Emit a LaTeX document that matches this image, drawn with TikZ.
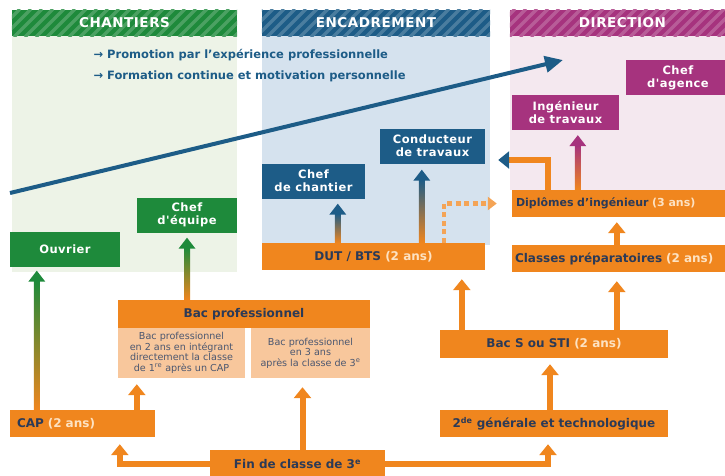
\documentclass[tikz,border=0pt]{standalone}
\usepackage{fontspec}
\setmainfont{DejaVu Sans}
\newfontfamily\espace[LetterSpace=4]{DejaVu Sans}
\usetikzlibrary{arrows.meta,calc}

\definecolor{vert}{HTML}{1E8A3B}
\definecolor{vertclair}{HTML}{EDF3E7}
\definecolor{bleu}{HTML}{1D5C87}
\definecolor{bleuclair}{HTML}{D5E2EE}
\definecolor{violet}{HTML}{A6337E}
\definecolor{violetclair}{HTML}{F4E8EF}
\definecolor{orangeF}{HTML}{F0861E}
\definecolor{orangeclair}{HTML}{F8C79C}
\definecolor{encre}{HTML}{2B3A57}
\definecolor{creme}{HTML}{FDE2C2}

% fleche verticale en degrade : depart, pointe, couleur du bas, couleur du haut
\newcommand\flechedegrade[4]{%
  \shade[bottom color=#3, top color=#4] ($(#1)+(-3pt,0pt)$) rectangle ($(#2)+(3pt,-10pt)$);
  \fill[#4] ($(#2)+(-8.5pt,-11pt)$) -- ($(#2)+(8.5pt,-11pt)$) -- (#2) -- cycle;}

\tikzset{
  bandeau/.style 2 args={rectangle, fill=#1, minimum width=#2, minimum height=26pt, inner sep=0pt},
  titre/.style={text=white, font=\espace\bfseries\fontsize{13.5}{15}\selectfont},
  poste/.style={rectangle, fill=#1, minimum height=35pt, inner sep=0pt, align=center,
    text=white, font=\espace\bfseries\fontsize{11.5}{13}\selectfont},
  etape/.style={rectangle, fill=orangeF, minimum height=27pt, inner sep=0pt,
    text=encre, font=\bfseries\fontsize{12}{14}\selectfont},
  detail/.style={rectangle, fill=orangeclair, minimum height=50pt, inner sep=0pt, align=center,
    text=encre!85, font=\fontsize{9.6}{10.6}\selectfont},
  fleche/.style={orangeF, line width=6pt, -{Triangle[width=17pt,length=11pt]}},
  pointille/.style={orangeF!75, line width=4.5pt, dash pattern=on 5pt off 3.5pt,
    -{Triangle[width=13pt,length=9pt]}},
  consigne/.style={anchor=west, text=bleu, font=\bfseries\fontsize{11.5}{13}\selectfont},
}

\begin{document}
\begin{tikzpicture}[x=1pt,y=-1pt]
\useasboundingbox (0,0) rectangle (725,475);

% fonds des trois colonnes
\fill[vertclair] (12,36) rectangle (237,272);
\fill[bleuclair] (262,36) rectangle (490,245);
\fill[violetclair] (510,36) rectangle (735,190);

% bandeaux hachures puis leurs titres
\node[bandeau={vert}{225pt}] (chantiers) at (124.5,23) {};
\node[bandeau={bleu}{228pt}] (encadrement) at (376,23) {};
\node[bandeau={violet}{225pt}] (direction) at (622.5,23) {};
\foreach \nom/\coul in {chantiers/vert, encadrement/bleu, direction/violet} {
  \begin{scope}
    \clip (\nom.south west) rectangle (\nom.north east);
    \foreach \x in {-30,-19,...,740}
      \draw[\coul!80!white, line width=3.5pt] (\x,37) -- (\x+28,9);
  \end{scope}
}
\node[titre] at (chantiers) {CHANTIERS};
\node[titre] at (encadrement) {ENCADREMENT};
\node[titre] at (direction) {DIRECTION};

\node[consigne] (promotion) at (90,55) {→ Promotion par l'expérience professionnelle};
\node[consigne] (formation) at (90,76) {→ Formation continue et motivation personnelle};

% les postes
\node[poste=vert, minimum width=110pt] (ouvrier) at (65,249) {Ouvrier};
\node[poste=vert, minimum width=100pt] (chefEq) at (187,215) {Chef\\d'équipe};
\node[poste=bleu, minimum width=103pt] (chefCh) at (313.5,181) {Chef\\de chantier};
\node[poste=bleu, minimum width=105pt] (conducteur) at (432.5,146) {Conducteur\\de travaux};
\node[poste=violet, minimum width=107pt] (ingenieur) at (565.5,112.5) {Ingénieur\\de travaux};
\node[poste=violet, minimum width=104pt] (chefAg) at (678,77.5) {Chef\\d'agence};

% les formations
\node[etape, minimum width=223pt] (dut) at (373.5,256.5) {DUT / BTS \textcolor{creme}{(2 ans)}};
\node[etape, minimum width=223pt, text width=215pt, align=left, font=\bfseries\fontsize{11}{13}\selectfont]
  (diplomes) at (623.5,203.5) {Diplômes d'ingénieur \textcolor{creme}{(3 ans)}};
\node[etape, minimum width=223pt, text width=217pt, align=left] (classes) at (623.5,258.5)
  {Classes préparatoires \textcolor{creme}{(2 ans)}};
\node[etape, minimum width=228pt, minimum height=28pt] (bacS) at (554,344) {Bac S ou STI \textcolor{creme}{(2 ans)}};
\node[etape, minimum width=228pt] (seconde) at (554,423.5) {2\textsuperscript{de} générale et technologique};
\node[etape, minimum width=175pt, minimum height=28pt] (fin) at (297.5,464) {Fin de classe de 3\textsuperscript{e}};
\node[etape, minimum width=145pt, text width=131pt, align=left] (cap) at (82.5,423.5) {CAP \textcolor{creme}{(2 ans)}};
\node[etape, minimum width=252pt, minimum height=28pt] (bacPro) at (244,314) {Bac professionnel};
\node[detail, minimum width=127pt] (bacProA) at (181.5,353)
  {Bac professionnel\\en 2 ans en intégrant\\directement la classe\\de 1\textsuperscript{re} après un CAP};
\node[detail, minimum width=119pt] (bacProB) at (310.5,353)
  {Bac professionnel\\en 3 ans\\après la classe de 3\textsuperscript{e}};

% parcours
\draw[fleche] (fin.west) -| ([xshift=110pt,yshift=-7pt]cap.south west);
\draw[fleche] (fin.east) -| ([xshift=-6pt,yshift=-7pt]seconde.south);
\draw[fleche, shorten >=9pt] ([xshift=5pt]fin.north) -- ([xshift=5pt]fin.north |- bacProB.south);
\draw[fleche, shorten >=6pt] ([xshift=127pt]cap.north west) -- ([xshift=19pt]bacProA.south west);
\draw[fleche, shorten >=6pt] ([xshift=-4pt]seconde.north) -- ([xshift=-4pt]bacS.south);
\draw[fleche, shorten >=9pt] ([xshift=22pt]bacS.north west) -- ([xshift=22pt]bacS.north west |- dut.south);
\draw[fleche, shorten >=9pt] ([xshift=177pt]bacS.north west) -- ([xshift=177pt]bacS.north west |- classes.south);
\draw[fleche, shorten >=5pt] ([xshift=105pt]classes.north west) -- ([xshift=105pt]diplomes.south west);
\draw[fleche, -{Triangle[width=17pt,length=11pt,color=bleu]}]
  ([xshift=36pt]diplomes.north west) |- ([xshift=13pt,yshift=-14pt]conducteur.east);
\draw[pointille] ([xshift=182pt]dut.north west) |- ([xshift=-15pt]diplomes.west);

\flechedegrade{[xshift=27pt]cap.north west}{[xshift=27pt,yshift=-4pt]ouvrier.south west}{orangeF}{vert}
\flechedegrade{bacPro.north -| chefEq.south}{[yshift=-5pt]chefEq.south}{orangeF}{vert}
\flechedegrade{[xshift=76pt]dut.north west}{[xshift=76pt,yshift=-5pt]chefCh.south west}{orangeF}{bleu}
\flechedegrade{[xshift=160pt]dut.north west}{[xshift=42pt,yshift=-6pt]conducteur.south west}{orangeF}{bleu}
\flechedegrade{[xshift=66pt]diplomes.north west}{[xshift=66pt,yshift=-5pt]ingenieur.south west}{orangeF}{violet}

% progression interne
\coordinate (depart) at (10,193);
\coordinate (sommet) at (563,60);
\draw[bleu, line width=4pt, -{Triangle[width=16pt,length=18pt]}] (depart) -- (sommet);
\end{tikzpicture}
\end{document}
